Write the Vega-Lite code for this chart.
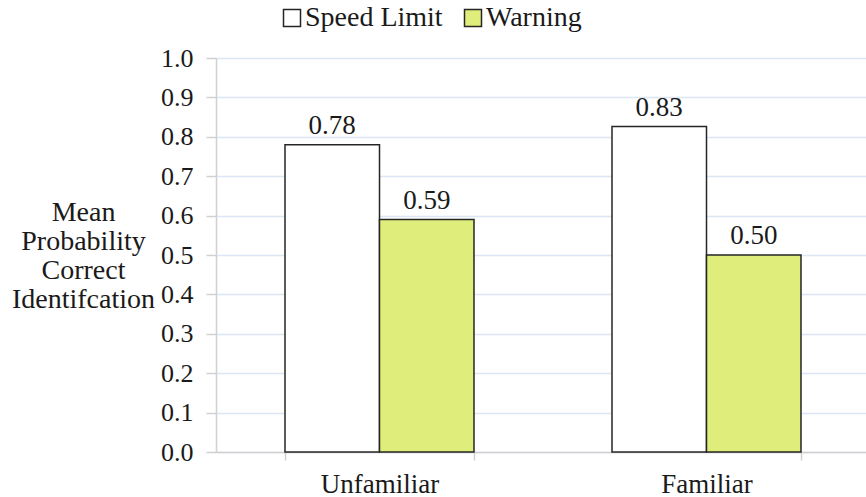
{
  "$schema": "https://vega.github.io/schema/vega-lite/v6.json",
  "autosize": {"type": "none"},
  "padding": {"left": 216, "top": 58, "right": 0, "bottom": 45},
  "width": 654,
  "height": 394,
  "background": "white",
  "config": {
    "font": "Liberation Serif",
    "view": {"stroke": null}
  },
  "data": {
    "values": [
      {"familiarity": "Unfamiliar", "sign": "Speed Limit", "value": 0.78},
      {"familiarity": "Unfamiliar", "sign": "Warning", "value": 0.59},
      {"familiarity": "Familiar", "sign": "Speed Limit", "value": 0.826},
      {"familiarity": "Familiar", "sign": "Warning", "value": 0.50}
    ]
  },
  "encoding": {
    "x": {
      "field": "familiarity",
      "type": "nominal",
      "sort": ["Unfamiliar", "Familiar"],
      "scale": {"paddingInner": 0.422, "paddingOuter": 0.211},
      "axis": {
        "title": null,
        "labelAngle": 0,
        "labelFont": "Liberation Serif",
        "labelFontSize": 27,
        "labelColor": "#1a1a1a",
        "labelBaseline": "alphabetic",
        "labelPadding": 32,
        "tickBand": "extent",
        "tickSize": 8,
        "tickColor": "#d0d0d0",
        "tickWidth": 1.5,
        "domainColor": "#d0d0d0",
        "domainWidth": 1.5
      }
    },
    "xOffset": {"field": "sign", "type": "nominal", "sort": ["Speed Limit", "Warning"]},
    "y": {
      "field": "value",
      "type": "quantitative",
      "scale": {"domain": [0, 1], "nice": false},
      "axis": {
        "values": [0, 0.1, 0.2, 0.3, 0.4, 0.5, 0.6, 0.7, 0.8, 0.9, 1.0],
        "format": ".1f",
        "labelFont": "Liberation Serif",
        "labelFontSize": 26,
        "labelColor": "#1a1a1a",
        "labelPadding": 13,
        "tickSize": 10,
        "tickColor": "#d0d0d0",
        "tickWidth": 1.5,
        "domainColor": "#d0d0d0",
        "domainWidth": 1.5,
        "grid": true,
        "gridColor": "#dce6f4",
        "gridWidth": 1.5,
        "title": ["Mean", "Probability", "Correct", "Identifcation"],
        "titleFont": "Liberation Serif",
        "titleFontSize": 28,
        "titleFontWeight": "normal",
        "titleColor": "#1a1a1a",
        "titleAngle": 0,
        "titleAlign": "center",
        "titleBaseline": "alphabetic",
        "titleLineHeight": 29.3,
        "titleX": -133,
        "titleY": 162
      }
    }
  },
  "layer": [
    {
      "mark": {"type": "bar", "stroke": "#262626", "strokeWidth": 1.5},
      "encoding": {
        "color": {
          "field": "sign",
          "type": "nominal",
          "scale": {"domain": ["Speed Limit", "Warning"], "range": ["#ffffff", "#dfee7a"]},
          "legend": {
            "title": null,
            "orient": "none",
            "direction": "horizontal",
            "legendX": 62,
            "legendY": -54,
            "symbolType": "square",
            "symbolSize": 289,
            "symbolStrokeColor": "#262626",
            "symbolStrokeWidth": 1.5,
            "symbolOpacity": 1,
            "labelFont": "Liberation Serif",
            "labelFontSize": 28,
            "labelColor": "#1a1a1a",
            "labelOffset": -1,
            "columnPadding": 16
          }
        }
      }
    },
    {
      "mark": {"type": "text", "baseline": "alphabetic", "dy": -11, "font": "Liberation Serif", "fontSize": 27, "color": "#1a1a1a"},
      "encoding": {
        "text": {"field": "value", "type": "quantitative", "format": ".2f"}
      }
    }
  ]
}
